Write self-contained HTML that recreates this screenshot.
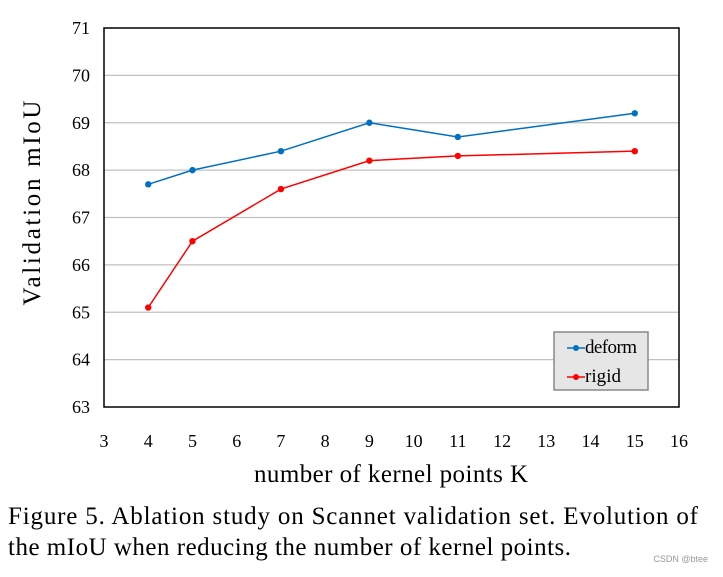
<!DOCTYPE html>
<html><head><meta charset="utf-8"><style>
body{margin:0;background:#fff;}
svg text{font-family:"Liberation Serif",serif;fill:#000;}
</style></head><body>
<svg id="c" width="723" height="572">
<rect x="0" y="0" width="723" height="572" fill="#fff"/>
</svg>
<script>
const xTicks=[3,4,5,6,7,8,9,10,11,12,13,14,15,16];
const yTicks=[63,64,65,66,67,68,69,70,71];
const kVals=[4,5,7,9,11,15];
const deform=[67.7,68.0,68.4,69.0,68.7,69.2];
const rigid=[65.1,66.5,67.6,68.2,68.3,68.4];
const svg=document.getElementById('c');
const NS='http://www.w3.org/2000/svg';
const L=104,R=679,T=28,B=407;
const xs=v=>L+(v-3)*(R-L)/13;
const ys=v=>B-(v-63)*(B-T)/8;
function mk(t,a,txt){const e=document.createElementNS(NS,t);for(const k in a)e.setAttribute(k,a[k]);if(txt!==undefined)e.textContent=txt;svg.appendChild(e);return e;}
yTicks.forEach(v=>{
 if(v>63&&v<71){const g=mk('line',{x1:L,x2:R,y1:ys(v),y2:ys(v),stroke:'#c0c0c0','stroke-width':1.2});
 
 }
 const t=mk('text',{x:L-14,y:ys(v)+6,'text-anchor':'end','font-size':18},v);
 
 
});
xTicks.forEach(v=>{
 const t=mk('text',{x:xs(v),y:B+40,'text-anchor':'middle','font-size':18},v);
 
 
});
const fr=mk('rect',{x:L,y:T,width:R-L,height:B-T,fill:'none',stroke:'#000','stroke-width':1.5});


function series(vals,col,name){
 const p=mk('polyline',{points:kVals.map((k,i)=>xs(k)+','+ys(vals[i])).join(' '),fill:'none',stroke:col,'stroke-width':1.5});
 
 
 kVals.forEach((k,i)=>{const c=mk('circle',{cx:xs(k),cy:ys(vals[i]),r:3.2,fill:col});
 
 });
}
series(deform,'#0070c0','deform');
series(rigid,'#ff0000','rigid');
const lg=mk('rect',{x:554,y:332,width:94,height:58,fill:'#e6e6e6',stroke:'#888','stroke-width':1.5});


[['deform','#0070c0',348,52],['rigid','#ff0000',377,36]].forEach(([n,c,y,w])=>{
 const l=mk('line',{x1:567,x2:585,y1:y,y2:y,stroke:c,'stroke-width':1.5});
 
 
 mk('circle',{cx:576,cy:y,r:3,fill:c});
 const t=mk('text',{x:585,y:y+5,'font-size':19,textLength:w},n);
 
 
});
const xt=mk('text',{x:254,y:482,'font-size':25,textLength:274},'number of kernel points K');


const yt=mk('text',{x:0,y:0,'text-anchor':'middle','font-size':25,textLength:205,transform:'translate(40,203) rotate(-90)'},'Validation mIoU');


const c1=mk('text',{x:8,y:524,'font-size':25,textLength:690},'Figure 5. Ablation study on Scannet validation set.  Evolution of');


const c2=mk('text',{x:8,y:555,'font-size':25,textLength:563},'the mIoU when reducing the number of kernel points.');


const wm=mk('text',{x:708,y:562,'text-anchor':'end','font-size':9,fill:'#999',style:'font-family:"Liberation Sans",sans-serif;fill:#999'},'CSDN @btee');


</script>
</body></html>
